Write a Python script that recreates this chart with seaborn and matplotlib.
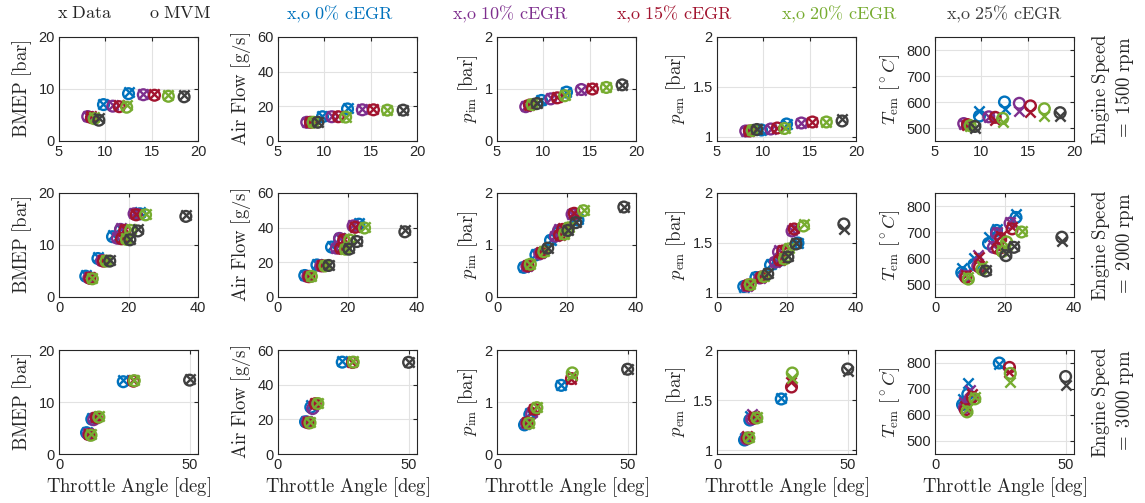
import matplotlib
matplotlib.use('Agg')
import pandas as pd
import seaborn as sns
from matplotlib import pyplot as plt
from matplotlib.ticker import FuncFormatter

EGR_LEVELS = ['0%', '10%', '15%', '20%', '25%']
EGR_COLORS = ['#0072BD', '#7E2F8E', '#A2142F', '#77AC30', '#404040']
SPEEDS = [1500, 2000, 3000]

# throttle angle [deg] per speed and cEGR level
THROTTLE = {
    1500: {'0%': [9.8, 12.5], '10%': [8.1, 10.8, 14.1], '15%': [8.5, 11.5, 15.3],
           '20%': [8.8, 12.3, 16.8], '25%': [9.3, 18.5]},
    2000: {'0%': [7.7, 11.2, 15.4, 17.7, 23.3], '10%': [8.6, 12.3, 16.8, 17.7, 21.6],
           '15%': [8.9, 12.8, 18.0, 18.9, 22.2], '20%': [9.6, 13.5, 19.4, 20.6, 24.9],
           '25%': [14.6, 20.4, 22.7, 36.5]},
    3000: {'0%': [10.5, 12.5, 24.5], '10%': [11.2, 13.2], '15%': [11.6, 14.2, 28.4],
           '20%': [12.2, 15.2, 28.7], '25%': [49.8]},
}

# measured values (x) and model values (o)
BMEP_DATA = {
    1500: {'0%': [7.2, 9.4], '10%': [4.9, 6.9, 9.1], '15%': [4.8, 6.9, 9.0],
           '20%': [4.6, 6.9, 8.9], '25%': [4.4, 8.9]},
    2000: {'0%': [4.2, 7.7, 12.0, 13.1, 16.3], '10%': [3.9, 7.2, 11.6, 13.3, 16.1],
           '15%': [3.8, 7.1, 11.4, 13.0, 16.0], '20%': [3.7, 7.1, 11.3, 13.0, 16.0],
           '25%': [7.1, 11.2, 13.1, 15.8]},
    3000: {'0%': [4.3, 7.0, 14.2], '10%': [4.0, 6.9], '15%': [3.9, 7.2, 14.3],
           '20%': [3.8, 7.3, 14.3], '25%': [14.4]},
}
BMEP_MVM = {
    1500: {'0%': [7.0, 9.1], '10%': [4.7, 6.7, 8.9], '15%': [4.5, 6.6, 8.8],
           '20%': [4.3, 6.5, 8.6], '25%': [4.0, 8.5]},
    2000: {'0%': [4.0, 7.4, 11.6, 12.9, 16.0], '10%': [3.7, 7.0, 11.3, 13.0, 16.0],
           '15%': [3.6, 6.9, 11.2, 12.8, 15.8], '20%': [3.5, 6.9, 11.1, 12.8, 15.8],
           '25%': [6.9, 11.0, 12.7, 15.5]},
    3000: {'0%': [4.1, 6.7, 13.9], '10%': [3.8, 6.6], '15%': [3.7, 7.0, 14.0],
           '20%': [3.6, 7.1, 14.1], '25%': [14.2]},
}
AIR_DATA = {
    1500: {'0%': [14.5, 19.0], '10%': [11.0, 14.3, 18.2], '15%': [11.0, 14.2, 18.2],
           '20%': [11.0, 14.0, 18.0], '25%': [11.0, 18.0]},
    2000: {'0%': [12.8, 19.0, 29.2, 34.0, 42.7], '10%': [12.2, 18.5, 28.5, 34.3, 41.5],
           '15%': [12.0, 18.3, 28.3, 33.3, 40.6], '20%': [12.2, 18.2, 27.9, 33.2, 40.2],
           '25%': [18.5, 28.0, 32.5, 38.8]},
    3000: {'0%': [19.0, 28.5, 53.5], '10%': [18.8, 27.5], '15%': [18.5, 29.5, 53.3],
           '20%': [18.4, 29.6, 53.4], '25%': [53.2]},
}
AIR_MVM = {
    1500: {'0%': [14.0, 18.5], '10%': [10.8, 14.0, 18.0], '15%': [10.8, 14.0, 18.0],
           '20%': [10.8, 13.8, 17.8], '25%': [10.8, 17.8]},
    2000: {'0%': [12.4, 18.5, 28.8, 33.5, 42.0], '10%': [11.9, 18.0, 28.2, 33.8, 41.0],
           '15%': [11.7, 18.0, 28.0, 33.0, 40.2], '20%': [11.9, 17.9, 27.6, 32.9, 39.8],
           '25%': [18.2, 27.6, 32.0, 37.6]},
    3000: {'0%': [18.6, 27.0, 53.0], '10%': [18.4, 26.2], '15%': [18.0, 29.0, 52.8],
           '20%': [18.0, 29.1, 53.0], '25%': [52.9]},
}
PIM_DATA = {
    1500: {'0%': [0.79, 0.95], '10%': [0.67, 0.82, 0.99], '15%': [0.70, 0.84, 1.01],
           '20%': [0.71, 0.88, 1.03], '25%': [0.73, 1.08]},
    2000: {'0%': [0.58, 0.82, 1.10, 1.26, 1.50], '10%': [0.60, 0.84, 1.18, 1.30, 1.60],
           '15%': [0.61, 0.86, 1.20, 1.32, 1.62], '20%': [0.64, 0.88, 1.22, 1.34, 1.68],
           '25%': [0.95, 1.29, 1.44, 1.73]},
    3000: {'0%': [0.57, 0.78, 1.33], '10%': [0.60, 0.80], '15%': [0.61, 0.87, 1.44],
           '20%': [0.60, 0.90, 1.52], '25%': [1.63]},
}
PIM_MVM = {
    1500: {'0%': [0.78, 0.94], '10%': [0.66, 0.81, 0.99], '15%': [0.69, 0.83, 1.00],
           '20%': [0.70, 0.87, 1.03], '25%': [0.72, 1.08]},
    2000: {'0%': [0.57, 0.81, 1.09, 1.25, 1.48], '10%': [0.59, 0.83, 1.17, 1.28, 1.59],
           '15%': [0.60, 0.85, 1.19, 1.30, 1.61], '20%': [0.63, 0.87, 1.21, 1.33, 1.66],
           '25%': [0.94, 1.28, 1.43, 1.73]},
    3000: {'0%': [0.56, 0.76, 1.32], '10%': [0.59, 0.77], '15%': [0.60, 0.86, 1.45],
           '20%': [0.59, 0.89, 1.56], '25%': [1.63]},
}
PEM_DATA = {
    1500: {'0%': [1.07, 1.13], '10%': [1.06, 1.08, 1.145], '15%': [1.06, 1.09, 1.15],
           '20%': [1.07, 1.09, 1.155], '25%': [1.08, 1.185]},
    2000: {'0%': [1.06, 1.16, 1.29, 1.33, 1.50], '10%': [1.07, 1.15, 1.31, 1.43, 1.63],
           '15%': [1.08, 1.16, 1.33, 1.43, 1.65], '20%': [1.09, 1.17, 1.35, 1.45, 1.69],
           '25%': [1.20, 1.37, 1.50, 1.64]},
    3000: {'0%': [1.12, 1.34, 1.52], '10%': [1.13, 1.36], '15%': [1.14, 1.34, 1.68],
           '20%': [1.13, 1.33, 1.72], '25%': [1.79]},
}
PEM_MVM = {
    1500: {'0%': [1.07, 1.13], '10%': [1.06, 1.08, 1.14], '15%': [1.06, 1.09, 1.15],
           '20%': [1.065, 1.085, 1.15], '25%': [1.075, 1.16]},
    2000: {'0%': [1.065, 1.155, 1.28, 1.32, 1.50], '10%': [1.07, 1.15, 1.31, 1.41, 1.62],
           '15%': [1.08, 1.16, 1.33, 1.42, 1.64], '20%': [1.085, 1.165, 1.34, 1.44, 1.67],
           '25%': [1.19, 1.36, 1.49, 1.69]},
    3000: {'0%': [1.10, 1.30, 1.51], '10%': [1.11, 1.31], '15%': [1.12, 1.32, 1.63],
           '20%': [1.12, 1.32, 1.77], '25%': [1.81]},
}
TEM_DATA = {
    1500: {'0%': [565, 574], '10%': [515, 543, 565], '15%': [510, 532, 560],
           '20%': [507, 523, 548], '25%': [500, 546]},
    2000: {'0%': [563, 600, 681, 712, 769], '10%': [540, 612, 650, 700, 740],
           '15%': [535, 605, 640, 685, 720], '20%': [528, 570, 630, 650, 703],
           '25%': [555, 620, 648, 664]},
    3000: {'0%': [660, 722, 795], '10%': [650, 695], '15%': [635, 680, 765],
           '20%': [622, 670, 727], '25%': [716]},
}
TEM_MVM = {
    1500: {'0%': [546, 600], '10%': [517, 543, 595], '15%': [513, 541, 585],
           '20%': [509, 537, 574], '25%': [506, 559]},
    2000: {'0%': [544, 575, 656, 706, 756], '10%': [530, 569, 641, 694, 734],
           '15%': [525, 565, 637, 675, 712], '20%': [519, 556, 625, 662, 700],
           '25%': [550, 609, 641, 680]},
    3000: {'0%': [640, 680, 800], '10%': [628, 660], '15%': [620, 668, 783],
           '20%': [612, 662, 760], '25%': [748]},
}

PANELS = [
    (BMEP_DATA, BMEP_MVM, r'$\mathrm{BMEP\ [bar]}$', (0, 20), [0, 10, 20]),
    (AIR_DATA, AIR_MVM, r'$\mathrm{Air\ Flow\ [g/s]}$', (0, 60), [0, 20, 40, 60]),
    (PIM_DATA, PIM_MVM, r'$p_{\mathrm{im}}\ \mathrm{[bar]}$', (0, 2), [0, 1, 2]),
    (PEM_DATA, PEM_MVM, r'$p_{\mathrm{em}}\ \mathrm{[bar]}$', (0.96, 2), [1, 1.5, 2]),
    (TEM_DATA, TEM_MVM, r'$T_{\mathrm{em}}\ \mathrm{[}^\circ C\mathrm{]}$', (450, 850), [500, 600, 700, 800]),
]
XLIMS = {1500: (5, 20), 2000: (0, 40), 3000: (0, 53)}
XTICKS = {1500: [5, 10, 15, 20], 2000: [0, 20, 40], 3000: [0, 50]}

sns.set_style('white')
plt.rcParams['font.family'] = ['Liberation Sans', 'DejaVu Sans']
plt.rcParams['mathtext.fontset'] = 'cm'

W, H = 1145, 503
COL_LEFT = [59, 278, 497, 717, 935]
ROW_TOP = [37, 193, 350]
AX_W, AX_H = 139, 104
DARK = '#262626'

fig = plt.figure(figsize=(W / 100, H / 100), dpi=100)

for r, speed in enumerate(SPEEDS):
    for c, (data, mvm, ylabel, ylim, yticks) in enumerate(PANELS):
        ax = fig.add_axes([COL_LEFT[c] / W, 1 - (ROW_TOP[r] + AX_H) / H, AX_W / W, AX_H / H])
        for egr, color in zip(EGR_LEVELS, EGR_COLORS):
            df = pd.DataFrame({'thr': THROTTLE[speed][egr],
                               'data': data[speed][egr],
                               'mvm': mvm[speed][egr]})
            sns.scatterplot(data=df, x='thr', y='data', ax=ax, marker='x', color=color,
                            s=55, linewidth=1.7, legend=False, zorder=3)
            sns.scatterplot(data=df, x='thr', y='mvm', ax=ax, marker='o', facecolors='none',
                            edgecolor=color, color=color, s=60, linewidth=1.7,
                            legend=False, zorder=3)
        ax.set_xlim(XLIMS[speed])
        ax.set_xticks(XTICKS[speed])
        ax.set_ylim(ylim)
        ax.set_yticks(yticks)
        ax.yaxis.set_major_formatter(FuncFormatter(lambda v, p: '{:g}'.format(v)))
        ax.grid(True, color='#e2e2e2', lw=0.8)
        ax.set_axisbelow(True)
        for sp in ax.spines.values():
            sp.set_visible(True)
            sp.set_color(DARK)
            sp.set_linewidth(0.8)
        ax.tick_params(direction='in', length=3, width=0.8, top=True, right=True,
                       labelsize=10.5, colors=DARK, pad=3)
        ax.set_ylabel(ylabel, fontsize=13.5, color=DARK, labelpad=3)
        if r == 2:
            ax.set_xlabel(r'$\mathrm{Throttle\ Angle\ [deg]}$', fontsize=13.5, color=DARK, labelpad=2)
        else:
            ax.set_xlabel('')

    yc = 1 - (ROW_TOP[r] + AX_H / 2) / H
    fig.text(1113 / W, yc, r'$\mathrm{Engine\ Speed}$' + '\n' + r'$\mathrm{=\ %d\ rpm}$' % speed,
             rotation=90, ha='center', va='center', multialignment='center',
             fontsize=13.5, color=DARK, linespacing=1.1)

# header line standing in for a legend
ytop = 1 - 14 / H
fig.text(85 / W, ytop, r'$\mathrm{x\ Data}$', ha='center', va='center', fontsize=13, color=DARK)
fig.text(180 / W, ytop, r'$\mathrm{o\ MVM}$', ha='center', va='center', fontsize=13, color=DARK)
for xc, egr, color in zip([340, 510, 674, 839, 1004], EGR_LEVELS, EGR_COLORS):
    fig.text(xc / W, ytop, r'$\mathrm{x{,}o\ %s\ cEGR}$' % egr.replace('%', r'\%'),
             ha='center', va='center', fontsize=13, color=color)

fig.savefig('out.png', dpi=100)
